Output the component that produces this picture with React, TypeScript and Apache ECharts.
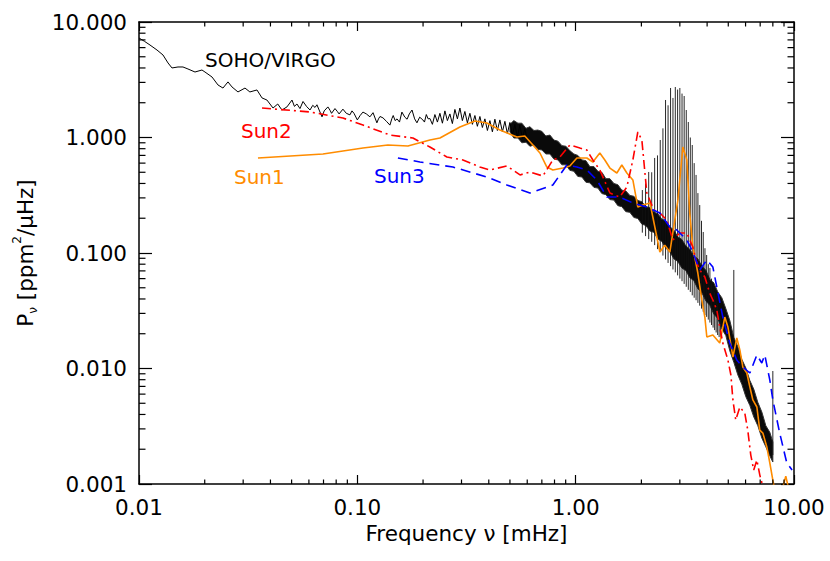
import { useEffect, useRef } from "react";
import * as echarts from "echarts";

const FONT = '"DejaVu Sans", sans-serif';

// SOHO/VIRGO noisy line, low-frequency part [freq mHz, power ppm^2/uHz]
const virgoLow: number[][] = [
  [0.01, 7.27], [0.0106, 6.8], [0.01123, 6.32], [0.01209, 5.72], [0.01288, 5.18], [0.01358, 4.42],
  [0.01416, 4.0], [0.01509, 4.08], [0.0159, 4.08], [0.01676, 3.92], [0.01805, 3.69],
  [0.01943, 3.84], [0.02005, 3.69], [0.0216, 3.34], [0.023, 2.85], [0.02424, 2.68],
  [0.02556, 3.03], [0.02666, 2.74], [0.0284, 2.48], [0.03058, 2.68], [0.0322, 2.48],
  [0.0347, 2.58], [0.0366, 2.2], [0.03855, 2.11], [0.0411, 1.8], [0.0432, 1.95], [0.04515, 1.73],
  [0.0476, 1.84], [0.0502, 2.11], [0.0515, 1.86], [0.0529, 1.95], [0.0546, 1.78], [0.0564, 2.05],
  [0.0585, 1.86], [0.0607, 1.73], [0.0625, 1.9], [0.064, 1.82], [0.0653, 1.92], [0.0689, 1.51],
  [0.0705, 1.7], [0.0733, 1.84], [0.075, 1.72], [0.0762, 1.62], [0.079, 1.78], [0.081, 1.68],
  [0.0825, 1.6], [0.0859, 1.76], [0.089, 1.62], [0.0925, 1.57], [0.0945, 1.7], [0.0965, 1.62],
  [0.1, 1.42], [0.103, 1.55], [0.1061, 1.66], [0.11, 1.6], [0.1142, 1.51], [0.118, 1.64],
  [0.1229, 1.34], [0.125, 1.45], [0.127, 1.52], [0.131, 1.48], [0.136, 1.38], [0.141, 1.28],
  [0.144, 1.46], [0.146, 1.55], [0.149, 1.4], [0.152, 1.45], [0.156, 1.36], [0.16, 1.66],
  [0.165, 1.5], [0.169, 1.44], [0.173, 1.6], [0.178, 1.73], [0.183, 1.45], [0.1875, 1.34],
  [0.193, 1.5], [0.1996, 1.42], [0.203, 1.36], [0.207, 1.58], [0.211, 1.45], [0.215, 1.46],
  [0.2207, 1.3], [0.2266, 1.58], [0.2327, 1.36], [0.2389, 1.62], [0.2453, 1.33], [0.2518, 1.7],
  [0.2585, 1.4], [0.2654, 1.6], [0.2725, 1.32], [0.2798, 1.75], [0.2873, 1.45], [0.295, 1.8],
  [0.3028, 1.4], [0.3109, 1.68], [0.3192, 1.34], [0.3278, 1.62], [0.3365, 1.3], [0.3455, 1.55],
  [0.3547, 1.25], [0.3642, 1.52], [0.3739, 1.22], [0.3839, 1.45], [0.3942, 1.15], [0.4047, 1.4],
  [0.4155, 1.12], [0.4266, 1.44], [0.438, 1.15], [0.4497, 1.42], [0.4617, 1.12], [0.4741, 1.38],
  [0.4867, 1.08], [0.4997, 1.35], [0.5131, 1.05], [0.5268, 1.3], [0.5408, 1.0], [0.5553, 1.28],
  [0.5701, 0.98], [0.5853, 1.2], [0.601, 0.92],
];

// SOHO/VIRGO dense noise band: frequency, upper and lower envelope
const bandFreq: number[] = [
  0.5, 0.521, 0.544, 0.567, 0.592, 0.617, 0.644, 0.671, 0.7, 0.73, 0.762, 0.795,
  0.829, 0.865, 0.902, 0.94, 0.981, 1.023, 1.068, 1.114, 1.161, 1.212, 1.264, 1.318,
  1.375, 1.434, 1.496, 1.56, 1.627, 1.697, 1.771, 1.847, 1.926, 2.009, 2.096, 2.186,
  2.28, 2.379, 2.481, 2.588, 2.699, 2.816, 2.937, 3.064, 3.196, 3.333, 3.476, 3.627,
  3.782, 3.946, 4.116, 4.293, 4.478, 4.671, 4.872, 5.083, 5.303, 5.53, 5.768, 6.017,
  6.275, 6.546, 6.827, 7.123, 7.429, 7.75, 8.0,
];
const bandHi: number[] = [
  1.3, 1.4, 1.33, 1.33, 1.2, 1.24, 1.15, 1.16, 1.13, 1.03, 1.05, 0.95,
  0.93, 0.85, 0.84, 0.77, 0.72, 0.7, 0.64, 0.63, 0.56, 0.56, 0.51, 0.5,
  0.44, 0.44, 0.4, 0.39, 0.35, 0.345, 0.315, 0.31, 0.285, 0.278, 0.252, 0.248,
  0.226, 0.219, 0.196, 0.19, 0.169, 0.158, 0.138, 0.131, 0.115, 0.108, 0.094, 0.089,
  0.077, 0.071, 0.059, 0.055, 0.046, 0.041, 0.033, 0.026, 0.0185, 0.0155, 0.012, 0.0101,
  0.0079, 0.0066, 0.0051, 0.0042, 0.0032, 0.0028, 0.00231,
];
const bandLo: number[] = [
  1.12, 0.99, 0.99, 0.9, 0.91, 0.84, 0.86, 0.79, 0.78, 0.72, 0.72, 0.65,
  0.64, 0.58, 0.58, 0.52, 0.51, 0.46, 0.455, 0.41, 0.405, 0.37, 0.365, 0.327,
  0.32, 0.29, 0.287, 0.257, 0.252, 0.228, 0.225, 0.203, 0.199, 0.178, 0.173, 0.155,
  0.151, 0.132, 0.126, 0.11, 0.103, 0.089, 0.0845, 0.074, 0.0705, 0.061, 0.0578, 0.049,
  0.0455, 0.0385, 0.0352, 0.0296, 0.0271, 0.022, 0.0193, 0.0142, 0.0113, 0.0088, 0.0073, 0.0057,
  0.0048, 0.0038, 0.0032, 0.0025, 0.0021, 0.00175, 0.00155,
];

// p-mode peaks: frequency, base and top of each spike
const modeFreq: number[] = [
  2.02, 2.09, 2.16, 2.23, 2.3, 2.37, 2.44, 2.51, 2.58, 2.65, 2.72, 2.79, 2.86, 2.93,
  3.0, 3.07, 3.14, 3.21, 3.28, 3.35, 3.42, 3.49, 3.56, 3.63, 3.7, 3.77, 3.84, 3.91,
  3.98, 4.05, 4.12, 4.19, 4.26, 4.33, 4.4, 4.47, 4.54, 4.61, 5.3, 8.0,
];
const modePeak: number[] = [
  0.351, 0.4, 0.503, 0.5, 0.665, 0.7, 0.951, 1.2, 2.112, 1.9, 2.683, 2.2, 2.736, 2.6,
  2.683, 2.4, 2.287, 1.73, 1.362, 1.0, 0.861, 0.6, 0.474, 0.33, 0.26, 0.19, 0.152, 0.11,
  0.0961, 0.08, 0.0742, 0.06, 0.0561, 0.046, 0.0424, 0.036, 0.0321, 0.0285, 0.0713, 0.00951,
];
const modeBase: number[] = [
  0.15, 0.14, 0.132, 0.125, 0.117, 0.108, 0.102, 0.095, 0.088, 0.082, 0.077, 0.072,
  0.068, 0.064, 0.06, 0.057, 0.054, 0.051, 0.048, 0.046, 0.043, 0.041, 0.039, 0.037,
  0.035, 0.033, 0.031, 0.029, 0.028, 0.0265, 0.025, 0.0238, 0.0226, 0.0215, 0.0205, 0.0195,
  0.0187, 0.0178, 0.0166, 0.00178,
];

const sun1: number[][] = [
  [0.03507, 0.665], [0.0696, 0.72], [0.1061, 0.811], [0.138, 0.861], [0.1705, 0.844],
  [0.215, 0.951], [0.239, 0.99], [0.295, 1.233], [0.3455, 1.389], [0.392, 1.335],
  [0.45, 1.161], [0.538, 1.01], [0.585, 1.03], [0.637, 0.861], [0.686, 0.734],
  [0.738, 0.555], [0.786, 0.523], [0.874, 0.544], [0.94, 0.567], [1.013, 0.665],
  [1.125, 0.665], [1.199, 0.614], [1.29, 0.734], [1.36, 0.639], [1.435, 0.544],
  [1.544, 0.493], [1.627, 0.578], [1.716, 0.493], [1.828, 0.429], [1.926, 0.25],
  [2.031, 0.26], [2.19, 0.271], [2.305, 0.168], [2.43, 0.102], [2.561, 0.117],
  [2.7, 0.102], [2.786, 0.149], [2.94, 0.288], [3.097, 0.827], [3.23, 0.639],
  [3.33, 0.222], [3.44, 0.1127], [3.627, 0.0671], [3.782, 0.0392], [3.905, 0.0279],
  [3.988, 0.01874], [4.25, 0.0195], [4.57, 0.0166], [4.82, 0.0279], [4.98, 0.0229],
  [5.25, 0.01258], [5.47, 0.01837], [5.65, 0.01446], [5.83, 0.0103], [6.08, 0.00914],
  [6.28, 0.00692], [6.48, 0.00534], [6.76, 0.00464], [6.97, 0.00293], [7.2, 0.00276],
  [7.51, 0.00209], [7.75, 0.00152], [8.0, 0.00108], [8.25, 0.0008], [8.7, 0.0008],
  [9.17, 0.00117], [9.6, 0.0008],
];

const sun2: number[][] = [
  [0.0366, 1.8], [0.0607, 1.663], [0.0859, 1.475], [0.1061, 1.283], [0.141, 1.051],
  [0.1797, 0.99], [0.215, 0.827], [0.2572, 0.678], [0.3045, 0.639], [0.364, 0.555],
  [0.405, 0.523], [0.4842, 0.567], [0.556, 0.474], [0.617, 0.503], [0.7077, 0.464],
  [0.7863, 0.639], [0.847, 0.678], [0.94, 0.861], [1.045, 0.811], [1.125, 0.779],
  [1.199, 0.639], [1.29, 0.523], [1.435, 0.331], [1.59, 0.305], [1.716, 0.373],
  [1.828, 0.639], [1.926, 1.116], [2.01, 0.951], [2.118, 0.331], [2.28, 0.236],
  [2.43, 0.222], [2.616, 0.193], [2.786, 0.1296], [3.0, 0.149], [3.23, 0.149],
  [3.44, 0.1127], [3.588, 0.0819], [3.7, 0.0713], [3.905, 0.062], [4.11, 0.045],
  [4.25, 0.0392], [4.43, 0.0321], [4.57, 0.0229], [4.72, 0.0166], [4.98, 0.01185],
  [5.14, 0.00879], [5.25, 0.00534], [5.41, 0.00358], [5.65, 0.00464], [5.95, 0.00412],
  [6.14, 0.00293], [6.34, 0.00178], [6.54, 0.00132], [6.76, 0.00161], [6.97, 0.0012],
  [7.27, 0.000887],
];

const sun3: number[][] = [
  [0.1534, 0.665], [0.1935, 0.614], [0.274, 0.555], [0.392, 0.455], [0.4842, 0.388],
  [0.617, 0.331], [0.786, 0.388], [0.9115, 0.578], [1.013, 0.555], [1.125, 0.523],
  [1.25, 0.429], [1.39, 0.305], [1.59, 0.305], [1.828, 0.271], [2.118, 0.25],
  [2.43, 0.222], [2.7, 0.168], [2.906, 0.158], [3.23, 0.1296], [3.44, 0.102],
  [3.7, 0.0713], [3.988, 0.087], [4.25, 0.0756], [4.43, 0.0508], [4.72, 0.0279],
  [5.08, 0.0166], [5.47, 0.01185], [5.83, 0.0103], [6.28, 0.00914], [6.76, 0.01309],
  [7.12, 0.01116], [7.35, 0.01309], [7.75, 0.00794], [8.0, 0.00534], [8.6, 0.00276],
  [9.27, 0.00152], [9.8, 0.00132],
];

const xMinorTicks: number[] = [
  0.02, 0.03, 0.04, 0.05, 0.06, 0.07, 0.08, 0.09,
  0.2, 0.3, 0.4, 0.5, 0.6, 0.7, 0.8, 0.9,
  2, 3, 4, 5, 6, 7, 8, 9,
];
const yMinorTicks: number[] = [
  0.002, 0.003, 0.004, 0.005, 0.006, 0.007, 0.008, 0.009,
  0.02, 0.03, 0.04, 0.05, 0.06, 0.07, 0.08, 0.09,
  0.2, 0.3, 0.4, 0.5, 0.6, 0.7, 0.8, 0.9,
  2, 3, 4, 5, 6, 7, 8, 9,
];

const X_MIN = 0.01, X_MAX = 10, Y_MIN = 0.001, Y_MAX = 10;

export default function App() {
  const ref = useRef<HTMLDivElement>(null);
  useEffect(() => {
    const chart = echarts.init(ref.current as HTMLDivElement, null, { renderer: "svg" });
    const labelStyle = { fontFamily: FONT, fontSize: 21.5, color: "#000" };
    const axisLine = { show: true, lineStyle: { color: "#000", width: 1.5 } };
    const xBase = {
      type: "log", logBase: 10, min: X_MIN, max: X_MAX, splitLine: { show: false },
      axisLine,
      axisTick: { show: true, inside: true, length: 9, lineStyle: { color: "#000", width: 1.2 } },
    };
    const yBase = {
      type: "log", logBase: 10, min: Y_MIN, max: Y_MAX, splitLine: { show: false },
      axisLine,
      axisTick: { show: true, inside: true, length: 13, lineStyle: { color: "#000", width: 1.2 } },
    };
    const txt = (text: string, x: number, y: number, fill: string) => ({
      type: "text", x, y,
      style: { text, fill, font: `20px ${FONT}`, verticalAlign: "middle", textVerticalAlign: "middle" },
    });
    const option: any = {
      animation: false,
      backgroundColor: "#fff",
      grid: { left: 139, top: 22, width: 655, height: 462, containLabel: false },
      xAxis: [
        {
          ...xBase, position: "bottom",
          axisLabel: { ...labelStyle, margin: 12, formatter: (v: number) => v.toFixed(2) },
          name: "Frequency ν [mHz]", nameLocation: "middle", nameGap: 35,
          nameTextStyle: { ...labelStyle },
        },
        { ...xBase, position: "top", axisLabel: { show: false } },
      ],
      yAxis: [
        {
          ...yBase, position: "left",
          axisLabel: { ...labelStyle, margin: 12, formatter: (v: number) => v.toFixed(3) },
          name: "{m|P}{s|ν}{m| [ppm}{p|2}{m|/μHz]}", nameLocation: "middle", nameGap: 100,
          nameTextStyle: {
            ...labelStyle,
            rich: {
              m: { fontFamily: FONT, fontSize: 21.5, color: "#000", lineHeight: 28 },
              s: { fontFamily: FONT, fontSize: 12, color: "#000", lineHeight: 12, verticalAlign: "bottom" },
              p: { fontFamily: FONT, fontSize: 12, color: "#000", lineHeight: 12, verticalAlign: "top" },
            },
          },
        },
        { ...yBase, position: "right", axisLabel: { show: false } },
      ],
      graphic: [
        txt("SOHO/VIRGO", 205, 60, "#000"),
        txt("Sun2", 241, 130.5, "#ff0000"),
        txt("Sun1", 234, 177, "#ff8c00"),
        txt("Sun3", 374, 176, "#0000ff"),
      ],
      series: [
        {
          type: "custom", name: "minorX", silent: true, z: 5,
          data: xMinorTicks.map((v) => [v, 1]),
          renderItem: (params: any, api: any) => {
            const cs = params.coordSys;
            const x = api.coord([api.value(0), 1])[0];
            const b = cs.y + cs.height;
            return {
              type: "group",
              children: [
                { type: "line", shape: { x1: x, y1: b, x2: x, y2: b - 4.5 }, style: { stroke: "#000", lineWidth: 1.2 } },
                { type: "line", shape: { x1: x, y1: cs.y, x2: x, y2: cs.y + 4.5 }, style: { stroke: "#000", lineWidth: 1.2 } },
              ],
            };
          },
        },
        {
          type: "custom", name: "minorY", silent: true, z: 5,
          data: yMinorTicks.map((v) => [1, v]),
          renderItem: (params: any, api: any) => {
            const cs = params.coordSys;
            const y = api.coord([1, api.value(1)])[1];
            const r = cs.x + cs.width;
            return {
              type: "group",
              children: [
                { type: "line", shape: { x1: cs.x, y1: y, x2: cs.x + 6.5, y2: y }, style: { stroke: "#000", lineWidth: 1.2 } },
                { type: "line", shape: { x1: r, y1: y, x2: r - 6.5, y2: y }, style: { stroke: "#000", lineWidth: 1.2 } },
              ],
            };
          },
        },
        {
          type: "custom", name: "virgoBand", silent: true, z: 2,
          data: [[bandFreq[0], bandHi[0]]],
          renderItem: (params: any, api: any) => {
            const pts: number[][] = [];
            for (let i = 0; i < bandFreq.length; i++) pts.push(api.coord([bandFreq[i], bandHi[i]]));
            for (let i = bandFreq.length - 1; i >= 0; i--) pts.push(api.coord([bandFreq[i], bandLo[i]]));
            return { type: "polygon", shape: { points: pts }, style: { fill: "#0a0a0a", stroke: "#333", lineWidth: 1 } };
          },
        },
        {
          type: "custom", name: "virgoModes", silent: true, z: 2,
          data: modeFreq.map((f, i) => [f, modeBase[i], modePeak[i]]),
          renderItem: (params: any, api: any) => {
            const p0 = api.coord([api.value(0), api.value(1)]);
            const p1 = api.coord([api.value(0), api.value(2)]);
            return { type: "line", shape: { x1: p0[0], y1: p0[1], x2: p1[0], y2: p1[1] }, style: { stroke: "#111", lineWidth: 0.9 } };
          },
        },
        {
          type: "line", name: "SOHO/VIRGO", data: virgoLow, showSymbol: false, symbol: "none", z: 2,
          lineStyle: { color: "#000", width: 1 },
        },
        {
          type: "line", name: "Sun1", data: sun1, showSymbol: false, symbol: "none", z: 4, clip: true,
          lineStyle: { color: "#ff8c00", width: 1.6 },
        },
        {
          type: "line", name: "Sun2", data: sun2, showSymbol: false, symbol: "none", z: 4, clip: true,
          lineStyle: { color: "#ff0000", width: 1.6, type: [9, 4, 2, 4] },
        },
        {
          type: "line", name: "Sun3", data: sun3, showSymbol: false, symbol: "none", z: 4, clip: true,
          lineStyle: { color: "#0000ff", width: 1.6, type: [10, 6] },
        },
      ],
    };
    chart.setOption(option);
    return () => chart.dispose();
  }, []);
  return <div ref={ref} style={{ position: "fixed", left: 0, top: 0, width: 830, height: 561 }} />;
}
